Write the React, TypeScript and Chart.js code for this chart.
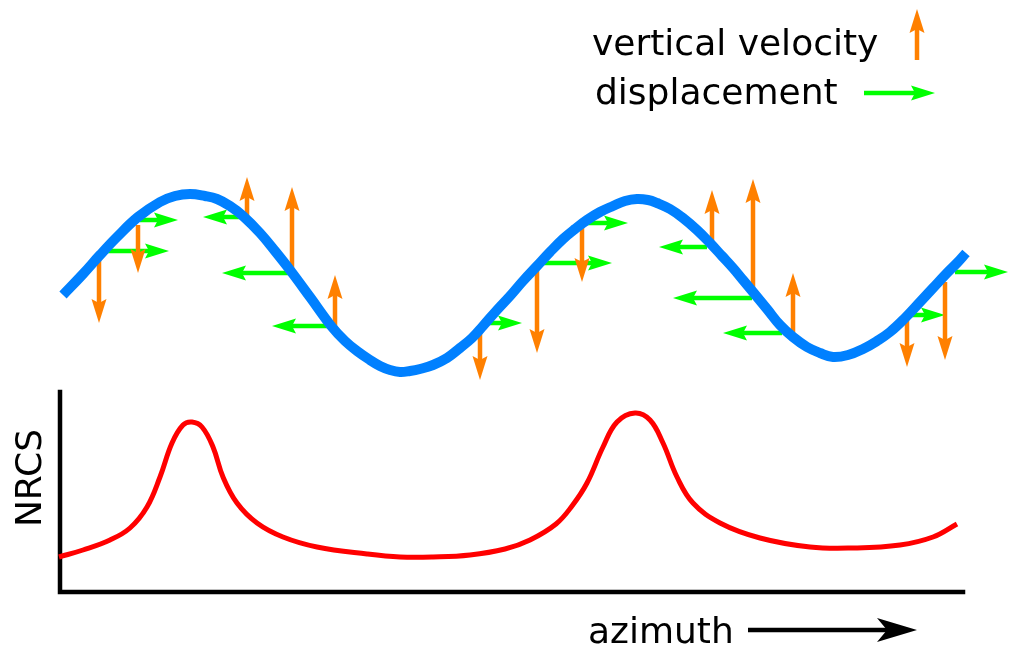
import { useEffect, useRef } from "react";
import { Chart, registerables } from "chart.js";
Chart.register(...registerables);

// Blue wave (surface elevation) – x and y in the diagram's own units (y grows downward)
const WAVE_X = [63, 83, 100, 117, 138, 160, 175, 190, 205, 217, 230, 243, 260, 275, 290, 310, 332, 345, 357, 370, 380, 390, 400, 410, 420, 433, 447, 460, 472, 483, 497, 510, 523, 537, 550, 563, 575, 587, 600, 613, 625, 637, 648, 657, 670, 683, 697, 710, 722, 733, 743, 753, 767, 780, 793, 807, 820, 833, 848, 863, 877, 890, 905, 920, 933, 947, 957, 966];
const WAVE_Y = [295, 274, 255, 237, 217, 202, 196, 194, 196, 199, 206, 216, 233, 251, 270, 297, 327, 341, 351, 360, 366, 370, 372, 371, 369, 365, 358, 348, 338, 326, 310, 296, 281, 266, 252, 239, 229, 220, 212, 206, 201, 199, 200, 203, 209, 218, 230, 243, 256, 268, 280, 292, 309, 325, 337, 347, 353, 357, 355, 349, 341, 332, 318, 302, 288, 273, 263, 253];

// Red NRCS curve
const NRCS_X = [59, 83, 110, 130, 147, 160, 172, 183, 192, 202, 213, 223, 237, 257, 283, 317, 367, 400, 433, 470, 505, 530, 556, 572, 587, 603, 617, 635, 650, 663, 677, 693, 720, 760, 810, 853, 900, 933, 957];
const NRCS_Y = [557, 550, 540, 528, 507, 477, 443, 425, 422, 427, 447, 477, 503, 523, 537, 547, 554, 557, 557, 555, 549, 540, 524, 506, 483, 447, 422, 413, 420, 443, 477, 503, 523, 538, 547, 548, 545, 537, 524];

// Vertical velocity arrows (orange): x, start y, tip y
const VEL_X = [99, 138, 247, 292, 335, 480, 537, 582, 712, 753, 793, 907, 945];
const VEL_Y0 = [260, 225, 217, 270, 327, 328, 267, 225, 242, 288, 333, 320, 282];
const VEL_Y1 = [323, 273, 177, 187, 275, 380, 353, 282, 190, 179, 273, 367, 360];

// Displacement arrows (green): y, start x, tip x
const DISP_Y = [220, 251, 217, 273, 326, 323, 263, 223, 247, 298, 333, 315, 272];
const DISP_X0 = [140, 108, 240, 288, 328, 487, 543, 583, 707, 752, 782, 910, 955];
const DISP_X1 = [178, 169, 203, 222, 272, 522, 612, 628, 659, 673, 723, 945, 1008];

// Axes of the NRCS panel
const AXIS_X = [60, 60, 963];
const AXIS_Y = [392, 592, 592];

// Azimuth arrow
const AZ_X = [748, 917];
const AZ_Y = [630, 630];

// Legend
const LEGEND_LABELS = ["vertical velocity", "displacement"];
const LEGEND_VEL_X = [917, 917];
const LEGEND_VEL_Y = [60, 9];
const LEGEND_DISP_X = [864, 935];
const LEGEND_DISP_Y = [93, 93];

const AXIS_LABEL_X = "azimuth";
const AXIS_LABEL_Y = "NRCS";

const ORANGE = "#ff8000";
const GREEN = "#00ff00";
const BLUE = "#0080ff";
const RED = "#ff0000";
const BLACK = "#000000";
const FONT = '36px "DejaVu Sans"';

type Arrow = { x0: number; y0: number; x1: number; y1: number };
type HeadSpec = { arrows: Arrow[]; color: string; len: number; hw: number; notch: number };

const zipXY = (xs: number[], ys: number[]) => xs.map((x, i) => ({ x, y: ys[i] }));

const velArrows: Arrow[] = VEL_X.map((x, i) => ({ x0: x, y0: VEL_Y0[i], x1: x, y1: VEL_Y1[i] }));
const dispArrows: Arrow[] = DISP_Y.map((y, i) => ({ x0: DISP_X0[i], y0: y, x1: DISP_X1[i], y1: y }));
const azArrow: Arrow[] = [{ x0: AZ_X[0], y0: AZ_Y[0], x1: AZ_X[1], y1: AZ_Y[1] }];
const legVel: Arrow[] = [{ x0: LEGEND_VEL_X[0], y0: LEGEND_VEL_Y[0], x1: LEGEND_VEL_X[1], y1: LEGEND_VEL_Y[1] }];
const legDisp: Arrow[] = [{ x0: LEGEND_DISP_X[0], y0: LEGEND_DISP_Y[0], x1: LEGEND_DISP_X[1], y1: LEGEND_DISP_Y[1] }];

const HEAD = { len: 24, hw: 7.5, notch: 4 };
const AZ_HEAD = { len: 40, hw: 12, notch: 10 };

function shaftData(arrows: Arrow[], len: number, notch: number) {
  const pts: { x: number; y: number | null }[] = [];
  const s = len - notch - 1;
  arrows.forEach((a) => {
    const dx = a.x1 - a.x0;
    const dy = a.y1 - a.y0;
    const L = Math.hypot(dx, dy) || 1;
    pts.push({ x: a.x0, y: a.y0 });
    pts.push({ x: a.x1 - (dx / L) * s, y: a.y1 - (dy / L) * s });
    pts.push({ x: a.x1, y: null });
  });
  return pts;
}

export default function App() {
  const ref = useRef<HTMLCanvasElement | null>(null);
  useEffect(() => {
    document.body.style.margin = "0";
    const canvas = ref.current;
    if (!canvas) return;

    const heads: Record<number, HeadSpec> = {
      1: { arrows: velArrows, color: ORANGE, ...HEAD },
      2: { arrows: dispArrows, color: GREEN, ...HEAD },
      5: { arrows: azArrow, color: BLACK, ...AZ_HEAD },
      6: { arrows: legVel, color: ORANGE, ...HEAD },
      7: { arrows: legDisp, color: GREEN, ...HEAD },
    };

    const lineDs = (data: any[], color: string, width: number, extra: any = {}) => ({
      data,
      borderColor: color,
      backgroundColor: color,
      borderWidth: width,
      pointRadius: 0,
      pointHoverRadius: 0,
      fill: false,
      tension: 0,
      borderCapStyle: "butt",
      spanGaps: false,
      ...extra,
    });

    const arrowPlugin = {
      id: "arrowHeads",
      afterDatasetDraw(chart: any, args: any) {
        const spec = heads[args.index];
        if (!spec) return;
        const { ctx, scales } = chart;
        const xs = scales.x;
        const ys = scales.y;
        ctx.save();
        ctx.fillStyle = spec.color;
        spec.arrows.forEach((a) => {
          const px0 = xs.getPixelForValue(a.x0);
          const py0 = ys.getPixelForValue(a.y0);
          const tx = xs.getPixelForValue(a.x1);
          const ty = ys.getPixelForValue(a.y1);
          const dx = tx - px0;
          const dy = ty - py0;
          const L = Math.hypot(dx, dy) || 1;
          const ux = dx / L;
          const uy = dy / L;
          const nx = -uy;
          const ny = ux;
          const bx = tx - ux * spec.len;
          const by = ty - uy * spec.len;
          const mx = tx - ux * (spec.len - spec.notch);
          const my = ty - uy * (spec.len - spec.notch);
          ctx.beginPath();
          ctx.moveTo(tx, ty);
          ctx.lineTo(bx + nx * spec.hw, by + ny * spec.hw);
          ctx.lineTo(mx, my);
          ctx.lineTo(bx - nx * spec.hw, by - ny * spec.hw);
          ctx.closePath();
          ctx.fill();
        });
        ctx.restore();
      },
    };

    const textPlugin = {
      id: "texts",
      afterDraw(chart: any) {
        const { ctx, scales } = chart;
        const X = (v: number) => scales.x.getPixelForValue(v);
        const Y = (v: number) => scales.y.getPixelForValue(v);
        ctx.save();
        ctx.fillStyle = BLACK;
        ctx.font = FONT;
        ctx.textBaseline = "alphabetic";
        ctx.textAlign = "left";
        ctx.fillText(LEGEND_LABELS[0], X(592), Y(55));
        ctx.fillText(LEGEND_LABELS[1], X(595), Y(104));
        ctx.fillText(AXIS_LABEL_X, X(588), Y(643));
        ctx.translate(X(41), Y(478));
        ctx.rotate(-Math.PI / 2);
        ctx.textAlign = "center";
        ctx.fillText(AXIS_LABEL_Y, 0, 0);
        ctx.restore();
      },
    };

    const chart = new Chart(canvas, {
      type: "line",
      data: {
        datasets: [
          lineDs(zipXY(WAVE_X, WAVE_Y), BLUE, 10, { tension: 0.4 }),
          lineDs(shaftData(velArrows, HEAD.len, HEAD.notch), ORANGE, 4.5),
          lineDs(shaftData(dispArrows, HEAD.len, HEAD.notch), GREEN, 4.5),
          lineDs(zipXY(NRCS_X, NRCS_Y), RED, 5, { tension: 0.4 }),
          lineDs(zipXY(AXIS_X, AXIS_Y), BLACK, 4.5, { borderJoinStyle: "miter", borderCapStyle: "square" }),
          lineDs(shaftData(azArrow, AZ_HEAD.len, AZ_HEAD.notch), BLACK, 4.5),
          lineDs(shaftData(legVel, HEAD.len, HEAD.notch), ORANGE, 4.5),
          lineDs(shaftData(legDisp, HEAD.len, HEAD.notch), GREEN, 4.5),
        ] as any,
      },
      options: {
        responsive: false,
        maintainAspectRatio: false,
        animation: false,
        events: [],
        layout: { padding: 0 },
        plugins: { legend: { display: false }, tooltip: { enabled: false } },
        scales: {
          x: { type: "linear", min: 0, max: 1009, display: false },
          y: { type: "linear", min: 0, max: 646, reverse: true, display: false },
        },
      },
      plugins: [arrowPlugin, textPlugin],
    });
    return () => chart.destroy();
  }, []);

  return (
    <div style={{ width: 1009, height: 646, background: "#ffffff" }}>
      <canvas ref={ref} width={1009} height={646} style={{ display: "block" }} />
    </div>
  );
}
